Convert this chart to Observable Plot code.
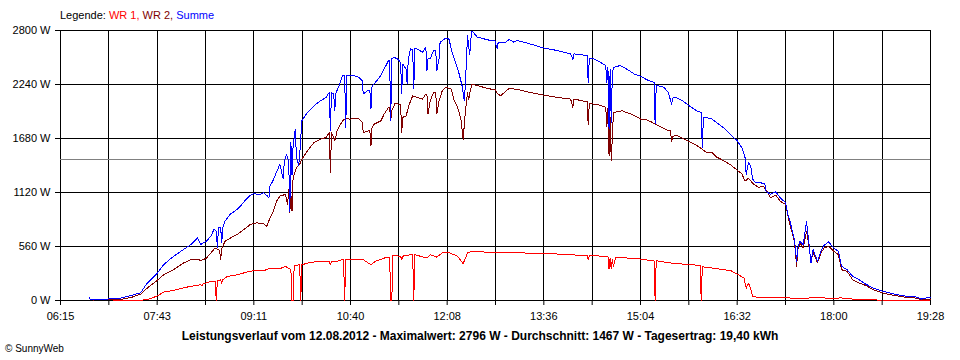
<!DOCTYPE html>
<html>
<head>
<meta charset="utf-8">
<script src="https://cdn.jsdelivr.net/npm/d3@7"></script>
<script src="https://cdn.jsdelivr.net/npm/@observablehq/plot@0.6"></script>
<style>
  html, body { margin: 0; padding: 0; background: #fff; }
  #wrap { position: relative; width: 960px; height: 360px; overflow: hidden; font-family: "Liberation Sans", Arial, sans-serif; color: #000; }
  #legend { position: absolute; left: 60px; top: 9px; font-size: 11px; white-space: nowrap; }
  #caption { position: absolute; left: 0; width: 960px; top: 329px; text-align: center; font-size: 12px; font-weight: bold; white-space: nowrap; }
  #copy { position: absolute; left: 5px; top: 343px; font-size: 10px; white-space: nowrap; }
  g[aria-label="line"] path { shape-rendering: crispEdges; }
  g[aria-label="rule"] line { shape-rendering: crispEdges; }
</style>
</head>
<body>
<div id="wrap">
  <div id="chart"></div>
  <div id="legend"></div>
  <div id="caption"></div>
  <div id="copy">© SunnyWeb</div>
</div>
<script>
// ---- data (time "HH:MM", power in W) ----
const legendLabel = "Legende: ";
const seriesNames = ["WR 1", "WR 2", "Summe"];
const seriesColors = ["#ff0000", "#800000", "#0000ff"];
const captionText = "Leistungsverlauf vom 12.08.2012 - Maximalwert: 2796 W - Durchschnitt: 1467 W - Tagesertrag: 19,40 kWh";
const averageW = 1467;
const yTicks = [0, 560, 1120, 1680, 2240, 2800];
const xTickLabels = ["06:15", "07:43", "09:11", "10:40", "12:08", "13:36", "15:04", "16:32", "18:00", "19:28"];

const wr1 = [["07:03",0],["07:28",3],["07:34",8],["07:42",42],["07:45",60],["07:49",87],["07:58",105],["08:13",146],["08:23",163],["08:24",150],["08:25",170],["08:32",198],["08:36",200],["08:37",0],["08:38",205],["08:41",215],["08:42",180],["08:43",215],["08:47",250],["08:56",267],["09:05",295],["09:11",309],["09:20",309],["09:27",337],["09:35",330],["09:40",354],["09:45",320],["09:46",0],["09:47",0],["09:48",360],["09:53",371],["09:54",0],["09:55",371],["10:03",396],["10:12",406],["10:20",406],["10:21",370],["10:22",406],["10:29",410],["10:33",430],["10:34",0],["10:35",430],["10:50",430],["10:58",371],["11:02",406],["11:10",440],["11:15",450],["11:16",0],["11:17",0],["11:18",465],["11:25",460],["11:26",420],["11:27",460],["11:34",475],["11:36",475],["11:37",0],["11:38",475],["11:49",440],["11:52",475],["11:58",450],["12:03",493],["12:10",493],["12:17",458],["12:22",382],["12:26",493],["12:30",510],["12:41",503],["12:56",493],["13:17",493],["13:48",482],["14:15",465],["14:16",420],["14:17",465],["14:30",460],["14:34",460],["14:35",326],["14:36",440],["14:37",330],["14:38",430],["14:39",350],["14:41",451],["14:58",434],["15:04",430],["15:13",413],["15:16",413],["15:17",0],["15:18",413],["15:31",389],["15:40",380],["15:49",371],["15:58",365],["15:59",0],["16:00",350],["16:13",330],["16:26",309],["16:32",274],["16:38",232],["16:40",128],["16:42",180],["16:44",128],["16:46",42],["16:50",35],["16:59",28],["17:37",24],["17:38",28],["18:04",24],["18:05",28],["18:20",12],["18:40",5],["19:28",5]];

const wr2 = [["06:45",5],["06:58",10],["07:10",12],["07:19",30],["07:28",66],["07:34",128],["07:42",198],["07:49",267],["07:58",319],["08:07",388],["08:13",420],["08:20",430],["08:23",413],["08:28",440],["08:32",493],["08:36",545],["08:40",520],["08:41",427],["08:42",540],["08:45",614],["08:50",649],["08:56",684],["09:02",736],["09:08",788],["09:14",805],["09:20",795],["09:23",770],["09:26",857],["09:29",926],["09:32",1030],["09:35",1082],["09:40",1100],["09:42",1000],["09:43",1152],["09:44",909],["09:45",1100],["09:46",926],["09:47",1273],["09:50",1377],["09:53",1412],["09:55",1464],["10:00",1551],["10:06",1637],["10:12",1672],["10:17",1690],["10:20",1742],["10:21",1325],["10:22",1740],["10:24",1690],["10:25",1655],["10:26",1700],["10:27",1760],["10:32",1863],["10:35",1888],["10:39",1881],["10:45",1891],["10:47",1881],["10:50",1846],["10:51",1742],["10:56",1760],["10:57",1760],["10:58",1603],["10:59",1800],["11:01",1829],["11:07",1863],["11:10",1933],["11:14",2002],["11:15",2002],["11:16",1863],["11:17",1967],["11:20",2047],["11:23",2037],["11:25",2037],["11:26",1742],["11:27",1900],["11:30",1915],["11:33",2037],["11:36",2123],["11:40",2106],["11:45",2089],["11:48",2141],["11:49",2141],["11:50",1933],["11:52",2071],["11:55",2158],["11:57",2158],["11:58",1933],["12:00",2071],["12:03",2176],["12:06",2210],["12:11",2193],["12:14",2071],["12:17",2002],["12:20",1881],["12:22",1672],["12:24",1950],["12:26",2158],["12:27",2080],["12:28",2150],["12:30",2245],["12:35",2228],["12:41",2210],["12:47",2193],["12:51",2193],["12:53",2150],["12:56",2123],["13:04",2200],["13:11",2190],["13:23",2158],["13:35",2130],["13:48",2106],["14:00",2089],["14:02",2000],["14:03",2089],["14:15",2061],["14:16",1821],["14:17",2044],["14:27",2026],["14:32",2002],["14:33",1800],["14:34",1990],["14:35",1500],["14:36",1900],["14:37",1447],["14:38",1700],["14:39",1950],["14:47",1967],["14:55",1933],["15:04",1881],["15:07",1881],["15:13",1856],["15:17",1829],["15:23",1794],["15:30",1759],["15:31",1759],["15:32",1648],["15:33",1700],["15:36",1718],["15:42",1683],["15:48",1648],["15:54",1613],["15:58",1585],["16:03",1540],["16:09",1533],["16:13",1488],["16:20",1447],["16:26",1405],["16:32",1350],["16:36",1315],["16:39",1239],["16:42",1267],["16:47",1204],["16:51",1176],["16:56",1180],["16:59",1135],["17:02",1065],["17:07",1093],["17:11",1030],["17:16",996],["17:19",822],["17:22",700],["17:24",614],["17:26",354],["17:27",520],["17:29",600],["17:32",544],["17:35",718],["17:37",580],["17:39",406],["17:41",500],["17:45",390],["17:48",490],["17:51",544],["17:55",562],["18:00",510],["18:04",475],["18:07",319],["18:12",302],["18:17",215],["18:23",180],["18:29",156],["18:36",111],["18:45",76],["18:55",52],["19:07",31],["19:16",24],["19:20",5],["19:25",14],["19:28",14]];

const summe = [["06:41",30],["06:42",10],["06:51",15],["06:58",15],["07:03",20],["07:10",25],["07:19",50],["07:28",80],["07:34",180],["07:42",267],["07:49",372],["07:58",458],["08:07",528],["08:13",572],["08:20",649],["08:23",580],["08:25",600],["08:28",614],["08:32",666],["08:35",739],["08:37",720],["08:38",544],["08:39",760],["08:41",753],["08:42",596],["08:43",760],["08:45",822],["08:50",898],["08:54",926],["08:59",978],["09:04",1048],["09:08",1090],["09:11",1107],["09:17",1100],["09:20",1117],["09:23",1090],["09:25",1065],["09:26",1187],["09:29",1250],["09:31",1308],["09:35",1412],["09:38",1259],["09:39",1440],["09:41",1516],["09:43",1450],["09:44",926],["09:45",1637],["09:46",1300],["09:47",1600],["09:49",1777],["09:50",1500],["09:52",1395],["09:53",1500],["09:55",1863],["10:00",1950],["10:06",2019],["10:12",2071],["10:17",2106],["10:20",2158],["10:21",1759],["10:22",2158],["10:24",2141],["10:25",1967],["10:26",2150],["10:29",2228],["10:32",2332],["10:34",2335],["10:35",1794],["10:36",2339],["10:42",2332],["10:47",2314],["10:50",2280],["10:51",2141],["10:55",2176],["10:57",2176],["10:58",1985],["10:59",2228],["11:02",2262],["11:07",2332],["11:10",2401],["11:14",2488],["11:15",2490],["11:16",1863],["11:17",2510],["11:19",2522],["11:22",2505],["11:25",2470],["11:26",2141],["11:27",2450],["11:30",2401],["11:31",2245],["11:32",2500],["11:34",2610],["11:36",2600],["11:37",2193],["11:38",2610],["11:40",2610],["11:45",2575],["11:48",2627],["11:49",2384],["11:50",2505],["11:52",2505],["11:55",2592],["11:57",2590],["11:58",2384],["12:00",2505],["12:01",2678],["12:06",2720],["12:09",2713],["12:12",2575],["12:15",2470],["12:18",2366],["12:21",2228],["12:23",2071],["12:24",2228],["12:26",2748],["12:27",2644],["12:28",2550],["12:29",2700],["12:30",2796],["12:35",2731],["12:41",2713],["12:47",2696],["12:51",2696],["12:53",2610],["12:54",2680],["13:01",2680],["13:04",2706],["13:08",2680],["13:11",2696],["13:17",2680],["13:23",2661],["13:35",2620],["13:48",2592],["14:00",2557],["14:02",2500],["14:03",2557],["14:15",2540],["14:16",2262],["14:17",2512],["14:20",2512],["14:27",2470],["14:32",2436],["14:33",2262],["14:34",2420],["14:35",1777],["14:36",2400],["14:37",1850],["14:38",2350],["14:39",2418],["14:45",2436],["14:51",2401],["14:58",2349],["15:04",2324],["15:11",2280],["15:16",2262],["15:17",1829],["15:18",2234],["15:25",2210],["15:29",2158],["15:32",2037],["15:33",2100],["15:36",2106],["15:42",2071],["15:48",2019],["15:55",1967],["15:59",1950],["16:00",1585],["16:01",1900],["16:03",1898],["16:09",1881],["16:15",1829],["16:21",1777],["16:27",1707],["16:32",1655],["16:36",1585],["16:39",1481],["16:40",1308],["16:42",1429],["16:44",1400],["16:46",1256],["16:48",1228],["16:53",1221],["16:57",1210],["16:58",1135],["17:02",1100],["17:07",1127],["17:11",1065],["17:16",1013],["17:18",892],["17:20",822],["17:22",718],["17:24",632],["17:26",406],["17:27",550],["17:29",614],["17:32",580],["17:35",822],["17:37",614],["17:39",388],["17:41",528],["17:45",406],["17:48",510],["17:51",572],["17:55",607],["18:00",544],["18:04",510],["18:07",354],["18:12",319],["18:17",250],["18:23",215],["18:29",170],["18:36",128],["18:45",94],["18:55",66],["19:07",42],["19:16",35],["19:20",14],["19:25",28],["19:28",28]];

// ---- helpers ----
const toMin = s => { const [h, m] = s.split(":").map(Number); return h * 60 + m; };
const rows = arr => arr.map(([t, w]) => ({t: toMin(t), w}));
const x0 = toMin(xTickLabels[0]);
const x1 = toMin(xTickLabels[xTickLabels.length - 1]);
const nGrid = (xTickLabels.length - 1) * 2;
const gridTicks = d3.range(nGrid + 1).map(i => x0 + i * (x1 - x0) / nGrid);
const labelFor = d => {
  const hit = xTickLabels.find(l => Math.abs(toMin(l) - d) < 1);
  return hit ? hit : "";
};

const chart = Plot.plot({
  width: 960,
  height: 360,
  marginLeft: 60,
  marginRight: 30,
  marginTop: 30,
  marginBottom: 60,
  x: {domain: [x0, x1]},
  y: {domain: [0, 2800]},
  style: {fontFamily: '"Liberation Sans", Arial, sans-serif', fontSize: "11px", background: "white", color: "black", overflow: "visible"},
  marks: [
    Plot.ruleY(yTicks, {stroke: "black", strokeWidth: 1}),
    Plot.ruleX(gridTicks, {stroke: "black", strokeWidth: 1}),
    Plot.ruleY([averageW], {stroke: "#808080", strokeWidth: 1}),
    Plot.line(rows(wr1), {x: "t", y: "w", stroke: seriesColors[0], strokeWidth: 1, curve: "linear"}),
    Plot.line(rows(wr2), {x: "t", y: "w", stroke: seriesColors[1], strokeWidth: 1, curve: "linear"}),
    Plot.line(rows(summe), {x: "t", y: "w", stroke: seriesColors[2], strokeWidth: 1, curve: "linear"}),
    Plot.axisY(yTicks, {anchor: "left", label: null, tickSize: 5, tickPadding: 5, tickFormat: d => `${d} W`}),
    Plot.axisX(gridTicks, {anchor: "bottom", label: null, tickSize: 5, tickPadding: 7, tickFormat: labelFor})
  ]
});
document.getElementById("chart").appendChild(chart);

// legend + caption
const legend = document.getElementById("legend");
legend.appendChild(document.createTextNode(legendLabel));
seriesNames.forEach((n, i) => {
  const s = document.createElement("span");
  s.style.color = seriesColors[i];
  s.textContent = n + (i < seriesNames.length - 1 ? ", " : "");
  legend.appendChild(s);
});
document.getElementById("caption").textContent = captionText;
</script>
</body>
</html>
